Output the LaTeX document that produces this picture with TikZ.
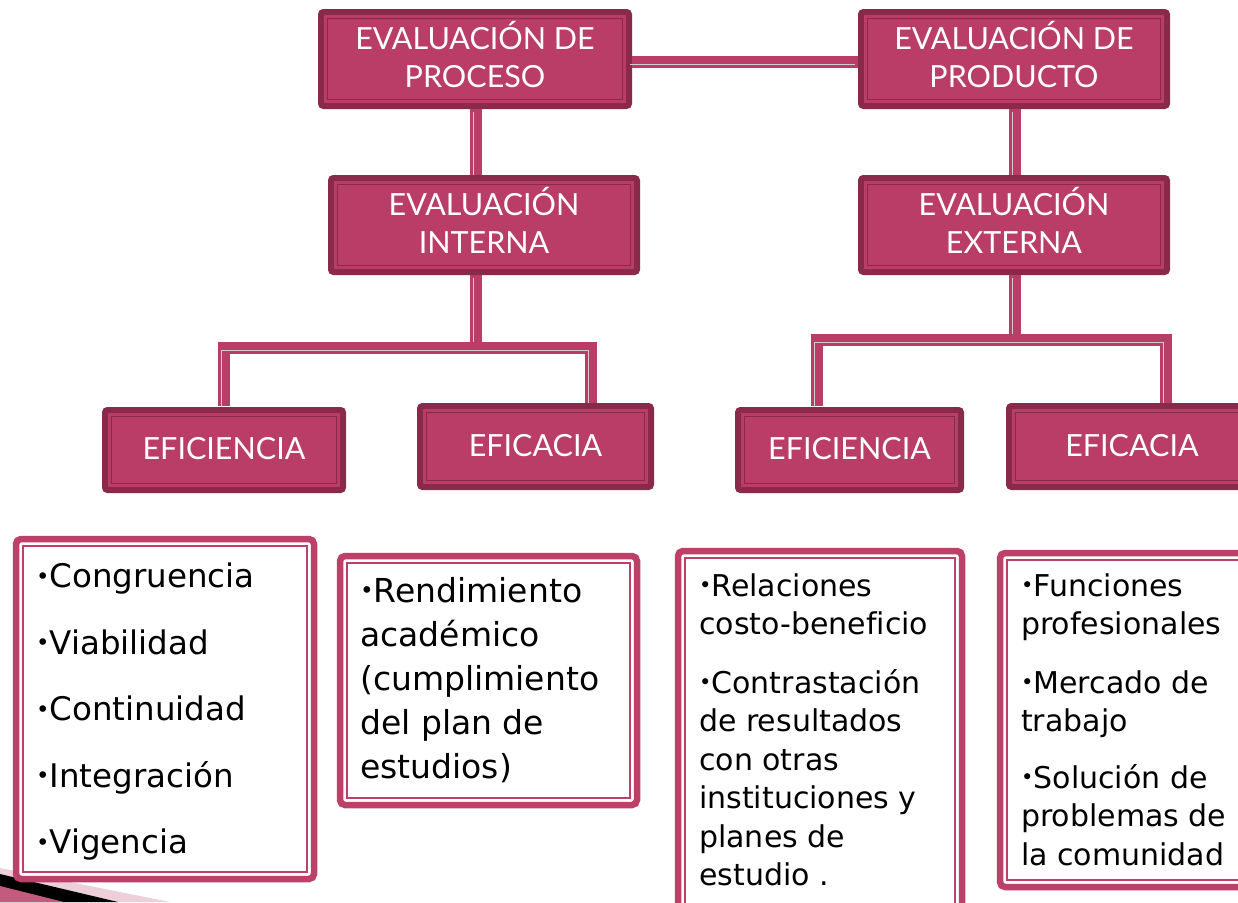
\documentclass[tikz,border=0pt]{standalone}
\usepackage{fontspec}
\setmainfont{Lato}
\newfontfamily\comicf[Ligatures=NoCommon]{DejaVu Sans}
\usetikzlibrary{calc}
\definecolor{dk}{HTML}{8A2A4B}
\definecolor{pk}{HTML}{B93D66}
\definecolor{bpk}{HTML}{BC4068}
\definecolor{stripe}{HTML}{CFCFCF}
\newcommand\bul{\raisebox{0.12em}{\scalebox{0.7}{•}}}
\tikzset{
  hbox/.style={rounded corners=5, fill=dk, text=white, inner sep=0pt, align=center,
    font=\fontsize{30.5}{38}\selectfont, text depth=10pt,
    path picture={
      \fill[pk, sharp corners] ([shift={(6,6)}]path picture bounding box.north west) rectangle ([shift={(-6,-6)}]path picture bounding box.south east);
      \draw[dk, line width=1.3, sharp corners] ([shift={(9.5,9.5)}]path picture bounding box.north west) rectangle ([shift={(-9.5,-9.5)}]path picture bounding box.south east);
    }},
  lbox/.style={rounded corners=5, fill=white, draw=bpk, line width=6.5, inner sep=0pt,
    path picture={
      \draw[bpk, line width=1.3, sharp corners] ([shift={(7,7)}]path picture bounding box.north west) rectangle ([shift={(-7,-7)}]path picture bounding box.south east);
    }},
  ltext/.style={anchor=north west, inner sep=0pt, align=left, text=black},
  conn/.style={draw=pk, line width=12},
  connstripe/.style={draw=stripe, line width=1.6, transform canvas={shift={(-2.5,2.5)}}},
}
\begin{document}
\begin{tikzpicture}[x=1pt,y=-1pt]
\useasboundingbox (0,0) rectangle (1238,902);
\clip (0,0) rectangle (1238,902);
\fill[white] (0,0) rectangle (1238,902);

% corner decoration
\fill[pk!25] (0,868) -- (170,902) -- (0,902) -- cycle;
\fill[black] (0,874) -- (118,902) -- (0,902) -- cycle;
\fill[pk!85!white] (0,886) -- (64,902) -- (0,902) -- cycle;

% connector junctions
\coordinate (jL) at (476,348);
\coordinate (lL) at (224,348);
\coordinate (rL) at (591,348);
\coordinate (jR) at (1015,340);
\coordinate (lR) at (817,340);
\coordinate (rR) at (1166,340);

% heading boxes
\node[hbox, minimum width=314, minimum height=100] (proc) at (475,59) {EVALUACIÓN DE\\PROCESO};
\node[hbox, minimum width=312, minimum height=100] (prod) at (1014,59) {EVALUACIÓN DE\\PRODUCTO};

% connectors (drawn before lower boxes)
\draw[conn] ([yshift=-3pt]proc.east) -- ([yshift=-3pt]prod.west);
\draw[connstripe] ([yshift=-3pt]proc.east) -- ([yshift=-3pt]prod.west);
\draw[conn] (proc.south -| jL) -- ++(0,66);
\draw[connstripe] (proc.south -| jL) -- ++(0,66);
\draw[conn] (prod.south -| jR) -- ++(0,66);
\draw[connstripe] (prod.south -| jR) -- ++(0,66);

\node[hbox, minimum width=312, minimum height=100] (int) at (484,225) {EVALUACIÓN\\INTERNA};
\node[hbox, minimum width=312, minimum height=100] (ext) at (1014,225) {EVALUACIÓN\\EXTERNA};

\draw[conn] (int.south -| jL) -- (jL);
\draw[connstripe] (int.south -| jL) -- (jL);
\draw[conn] (ext.south -| jR) -- (jR);
\draw[connstripe] (ext.south -| jR) -- (jR);

\draw[conn] ($(lL)+(0,58)$) -- (lL) -- (rL) -- ($(rL)+(0,57)$);
\draw[connstripe] ($(lL)+(0,58)$) -- (lL) -- (rL) -- ($(rL)+(0,57)$);
\draw[conn] ($(lR)+(0,66)$) -- (lR) -- (rR) -- ($(rR)+(0,64)$);
\draw[connstripe] ($(lR)+(0,66)$) -- (lR) -- (rR) -- ($(rR)+(0,64)$);

\node[hbox, minimum width=244, minimum height=86, text depth=3pt] (ef1) at (224,450) {EFICIENCIA};
\node[hbox, minimum width=237, minimum height=87, text depth=3pt] (ec1) at (535.5,446.5) {EFICACIA};
\node[hbox, minimum width=229, minimum height=86, text depth=3pt] (ef2) at (849.5,450) {EFICIENCIA};
\node[hbox, minimum width=252, minimum height=87, text depth=3pt] (ec2) at (1132,446.5) {EFICACIA};

% lower boxes
\node[lbox, minimum width=298, minimum height=340] (b1) at (165,709) {};
\node[lbox, minimum width=297, minimum height=249] (b2) at (488.5,680.5) {};
\node[lbox, minimum width=284, minimum height=370] (b3) at (820,736) {};
\node[lbox, minimum width=270, minimum height=334] (b4) at (1135,720) {};

\node[ltext, font=\comicf\fontsize{32.5}{66.5}\selectfont] (t1) at (36,563)
  {\bul Congruencia\\\bul Viabilidad\\\bul Continuidad\\\bul Integración\\\bul Vigencia};
\node[ltext, font=\comicf\fontsize{33}{44}\selectfont] (t2) at (360,577)
  {\bul Rendimiento\\académico\\(cumplimiento\\del plan de\\estudios)};
\node[ltext, font=\comicf\fontsize{30}{38.5}\selectfont] (t3) at (699,573)
  {\bul Relaciones\\costo-beneficio\\[20pt]\bul Contrastación\\de resultados\\con otras\\instituciones y\\planes de\\estudio .};
\node[ltext, font=\comicf\fontsize{30}{38.5}\selectfont] (t4) at (1021,573)
  {\bul Funciones\\profesionales\\[20pt]\bul Mercado de\\trabajo\\[18pt]\bul Solución de\\problemas de\\la comunidad};
\end{tikzpicture}
\end{document}
